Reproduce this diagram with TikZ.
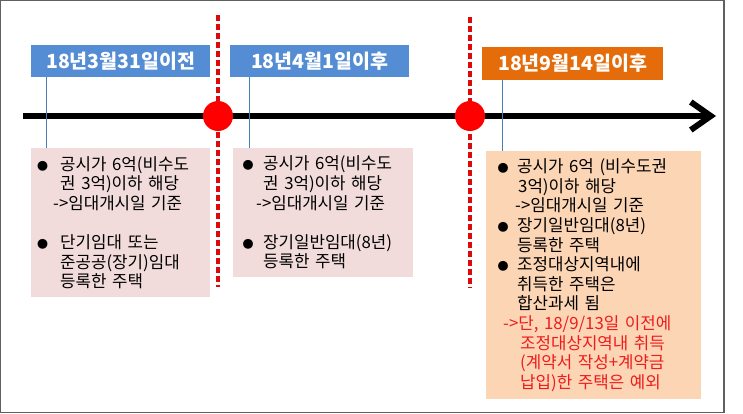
\documentclass[tikz,border=0pt]{standalone}
\usepackage{fontspec}
\setmainfont{Noto Sans CJK KR}
\definecolor{hdblue}{RGB}{84,141,212}
\definecolor{hdorange}{RGB}{228,108,10}
\definecolor{notepink}{RGB}{242,220,219}
\definecolor{notepeach}{RGB}{252,213,181}
\definecolor{linkblue}{RGB}{74,126,187}
\definecolor{markred}{RGB}{255,0,0}
\definecolor{dashred}{RGB}{220,10,10}
\definecolor{framegray}{RGB}{96,96,96}
\definecolor{warnred}{RGB}{238,28,28}
\usetikzlibrary{arrows.meta,positioning,calc}

\newlength{\hangw}
\newcommand{\bul}{\makebox[\hangw][l]{\fontsize{11}{11}\selectfont ●}}
\newcommand{\ind}{\hspace*{\hangw}}

\begin{document}
\begin{tikzpicture}[x=1pt, y=-1pt,
  header/.style={text=white, font=\fontsize{19.5}{19.5}\selectfont\bfseries,
                 inner sep=0pt, minimum height=32pt, anchor=north west},
  note/.style={anchor=north west, inner ysep=0pt, align=left,
               font=\fontsize{16.8}{19.6}\selectfont},
  link/.style={draw=linkblue, line width=0.8pt},
  cut/.style={dashred, line width=3.2pt, dash pattern=on 6pt off 3pt},
  datemark/.style={circle, fill=markred, minimum size=30pt, inner sep=0pt}]

\useasboundingbox (0,0) rectangle (743,413);
\draw[framegray, line width=1.2pt] (0.6,0.6) rectangle (724,412.4);

% === Date cuts ===
\coordinate (cut1-top) at (218,15);
\coordinate (cut1-bot) at (218,287);
\coordinate (cut2-top) at (470,17);
\coordinate (cut2-bot) at (470,288);
\draw[cut] (cut1-top) -- (cut1-bot);
\draw[cut] (cut2-top) -- (cut2-bot);

% === Timeline ===
\coordinate (tl-start) at (23,116);
\coordinate (tl-end) at (716,116);
\draw[line width=6pt, -{Straight Barb[length=20pt, width=28pt]}] (tl-start) -- (tl-end);
\node[datemark] (d1) at (218,116) {};
\node[datemark] (d2) at (470,116) {};

% === Period 1 (Blue) ===
\node[header, fill=hdblue, minimum width=179pt] (head1) at (31,45) {18년3월31일이전};
\node[note, fill=notepink, minimum width=179pt, minimum height=149pt,
      inner xsep=6pt, text width=167pt] (note1) at (31,148)
     {\setlength{\hangw}{23pt}%
      \bul 공시가 6억(비수도\\
      \ind 권 3억)이하 해당\\
      \hspace*{16pt}->임대개시일 기준\\[19.6pt]
      \bul 단기임대 또는\\
      \ind 준공공(장기)임대\\
      \ind 등록한 주택};
\draw[link] (head1.south west) ++(15,0) coordinate (tap1) -- (tap1 |- note1.north);

% === Period 2 (Blue) ===
\node[header, fill=hdblue, minimum width=179pt] (head2) at (230,45) {18년4월1일이후};
\node[note, fill=notepink, minimum width=180pt, minimum height=129pt,
      inner xsep=9.5pt, text width=161pt] (note2) at (233,148)
     {\setlength{\hangw}{20.5pt}%
      \bul 공시가 6억(비수도\\
      \ind 권 3억)이하 해당\\
      \hspace*{13.5pt}->임대개시일 기준\\[19.6pt]
      \bul 장기일반임대(8년)\\
      \ind 등록한 주택};
\draw[link] (head2.south west) ++(19,0) coordinate (tap2) -- (tap2 |- note2.north);

% === Period 3 (Orange) ===
\node[header, fill=hdorange, minimum width=181pt, minimum height=33pt] (head3) at (482,47) {18년9월14일이후};
\node[note, fill=notepeach, minimum width=215pt, minimum height=248pt,
      inner xsep=11.5pt, text width=192pt] (note3) at (486,151)
     {\setlength{\hangw}{19.5pt}%
      \bul 공시가 6억 (비수도권\\
      \ind\hspace*{1pt}3억)이하 해당\\
      \hspace*{17.5pt}->임대개시일 기준\\
      \bul 장기일반임대(8년)\\
      \ind 등록한 주택\\
      \bul 조정대상지역내에\\
      \ind 취득한 주택은\\
      \ind 합산과세 됨\\
      \textcolor{warnred}{\hspace*{5.5pt}->단, 18/9/13일 이전에}\\
      \textcolor{warnred}{\hspace*{22.5pt}조정대상지역내 취득}\\
      \textcolor{warnred}{\hspace*{22.5pt}(계약서 작성+계약금}\\
      \textcolor{warnred}{\hspace*{22.5pt}납입)한 주택은 예외}};
\draw[link] (head3.south west) ++(20,0) coordinate (tap3) -- (tap3 |- note3.north);

\end{tikzpicture}
\end{document}
